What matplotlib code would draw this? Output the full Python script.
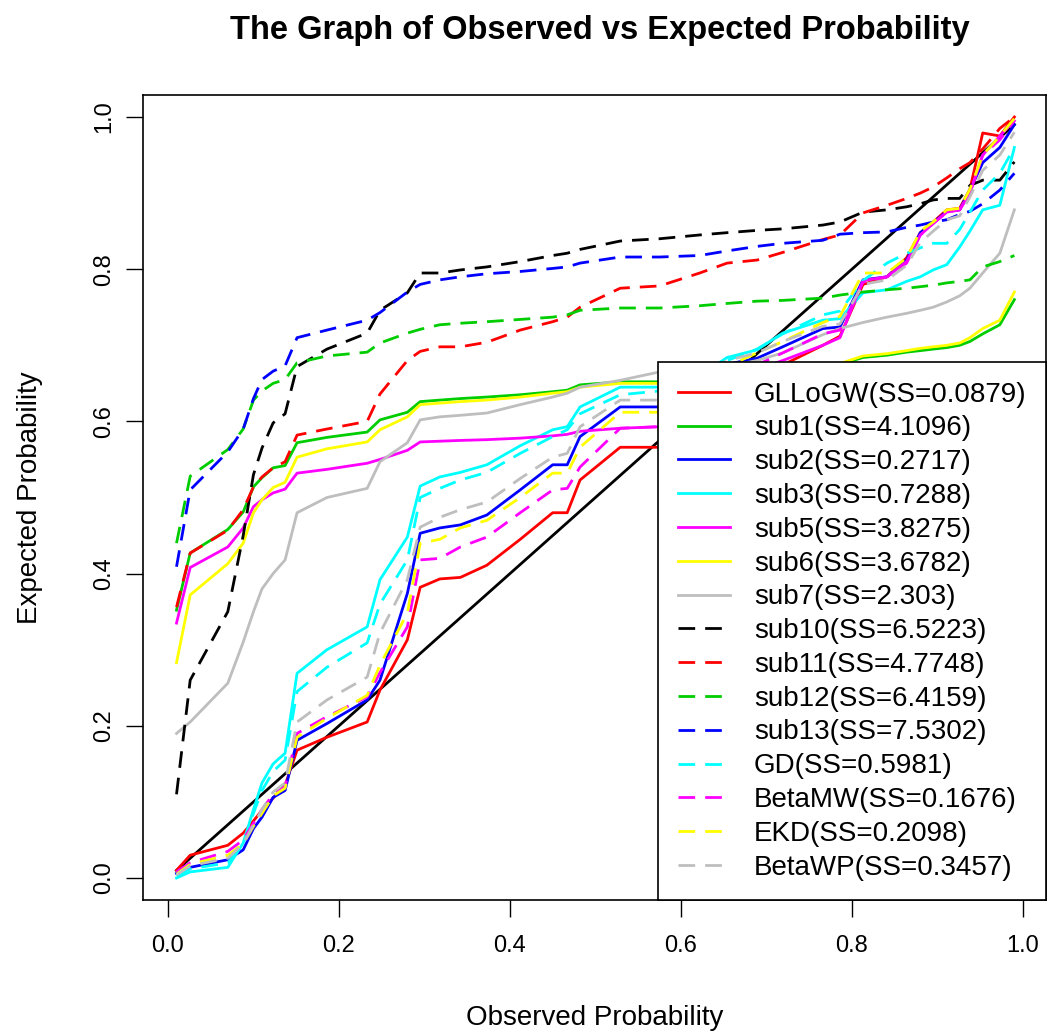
import numpy as np
import matplotlib
matplotlib.use("Agg")
import matplotlib.pyplot as plt

plt.rcParams['font.family'] = ['Liberation Sans', 'DejaVu Sans']

# observed probabilities (shared x for every model)
obs = [0.010, 0.026, 0.070, 0.088, 0.100, 0.110, 0.123, 0.137, 0.151, 0.186,
       0.233, 0.248, 0.280, 0.295, 0.318, 0.342, 0.373, 0.412, 0.450, 0.467,
       0.482, 0.529, 0.575, 0.622, 0.654, 0.689, 0.719, 0.766, 0.786, 0.813,
       0.841, 0.864, 0.880, 0.895, 0.911, 0.926, 0.938, 0.953, 0.973, 0.990]

# expected probabilities for each fitted model
gllogw = [0.010, 0.030, 0.043, 0.059, 0.075, 0.089, 0.105, 0.122, 0.168, 0.185,
          0.205, 0.247, 0.313, 0.382, 0.393, 0.395, 0.411, 0.445, 0.480, 0.480,
          0.523, 0.566, 0.566, 0.600, 0.630, 0.660, 0.674, 0.700, 0.712, 0.780,
          0.790, 0.815, 0.848, 0.862, 0.878, 0.880, 0.905, 0.979, 0.975, 1.000]
sub1 = [0.352, 0.427, 0.458, 0.481, 0.514, 0.526, 0.539, 0.542, 0.572, 0.579,
        0.586, 0.602, 0.612, 0.626, 0.628, 0.630, 0.632, 0.635, 0.639, 0.641,
        0.648, 0.652, 0.652, 0.655, 0.658, 0.662, 0.666, 0.672, 0.675, 0.684,
        0.687, 0.691, 0.693, 0.695, 0.697, 0.700, 0.705, 0.715, 0.727, 0.760]
sub2 = [0.006, 0.014, 0.024, 0.037, 0.065, 0.080, 0.106, 0.115, 0.181, 0.203,
        0.234, 0.260, 0.374, 0.453, 0.460, 0.464, 0.477, 0.510, 0.543, 0.543,
        0.580, 0.619, 0.619, 0.650, 0.675, 0.683, 0.698, 0.722, 0.724, 0.786,
        0.790, 0.812, 0.848, 0.861, 0.876, 0.878, 0.904, 0.940, 0.960, 0.990]
sub3 = [0.000, 0.008, 0.014, 0.046, 0.090, 0.125, 0.150, 0.164, 0.269, 0.300,
        0.330, 0.392, 0.448, 0.515, 0.527, 0.533, 0.543, 0.568, 0.589, 0.593,
        0.619, 0.645, 0.645, 0.660, 0.684, 0.694, 0.716, 0.733, 0.735, 0.769,
        0.773, 0.784, 0.790, 0.799, 0.806, 0.829, 0.850, 0.878, 0.884, 0.960]
sub5 = [0.335, 0.408, 0.435, 0.460, 0.488, 0.497, 0.506, 0.511, 0.532, 0.537,
        0.545, 0.550, 0.562, 0.573, 0.574, 0.575, 0.576, 0.578, 0.581, 0.583,
        0.587, 0.591, 0.593, 0.620, 0.645, 0.668, 0.680, 0.700, 0.710, 0.785,
        0.790, 0.810, 0.845, 0.860, 0.875, 0.878, 0.900, 0.950, 0.975, 0.995]
sub6 = [0.283, 0.372, 0.413, 0.440, 0.480, 0.497, 0.513, 0.520, 0.553, 0.564,
        0.573, 0.589, 0.606, 0.622, 0.624, 0.626, 0.628, 0.632, 0.637, 0.639,
        0.645, 0.650, 0.650, 0.654, 0.657, 0.661, 0.665, 0.672, 0.676, 0.686,
        0.689, 0.693, 0.696, 0.698, 0.700, 0.703, 0.710, 0.722, 0.733, 0.770]
sub7 = [0.190, 0.205, 0.256, 0.310, 0.350, 0.380, 0.400, 0.418, 0.480, 0.500,
        0.512, 0.547, 0.572, 0.602, 0.606, 0.608, 0.611, 0.622, 0.632, 0.637,
        0.645, 0.654, 0.665, 0.668, 0.672, 0.680, 0.690, 0.714, 0.722, 0.730,
        0.737, 0.742, 0.746, 0.750, 0.757, 0.765, 0.775, 0.795, 0.821, 0.878]
sub10 = [0.110, 0.260, 0.350, 0.450, 0.530, 0.565, 0.598, 0.610, 0.672, 0.695,
         0.716, 0.746, 0.769, 0.795, 0.795, 0.799, 0.803, 0.810, 0.818, 0.821,
         0.826, 0.837, 0.840, 0.845, 0.848, 0.851, 0.853, 0.858, 0.862, 0.875,
         0.878, 0.882, 0.886, 0.891, 0.893, 0.893, 0.910, 0.917, 0.917, 0.941]
sub11 = [0.356, 0.427, 0.457, 0.484, 0.514, 0.527, 0.539, 0.547, 0.582, 0.590,
         0.600, 0.636, 0.680, 0.692, 0.698, 0.698, 0.704, 0.720, 0.731, 0.737,
         0.750, 0.775, 0.778, 0.795, 0.808, 0.812, 0.822, 0.839, 0.845, 0.874,
         0.884, 0.893, 0.900, 0.908, 0.920, 0.932, 0.940, 0.958, 0.985, 1.000]
sub12 = [0.440, 0.528, 0.563, 0.590, 0.628, 0.640, 0.650, 0.655, 0.677, 0.686,
         0.691, 0.703, 0.716, 0.721, 0.727, 0.729, 0.731, 0.734, 0.737, 0.740,
         0.746, 0.749, 0.749, 0.752, 0.755, 0.758, 0.759, 0.762, 0.766, 0.770,
         0.773, 0.775, 0.777, 0.779, 0.782, 0.784, 0.786, 0.803, 0.810, 0.818]
sub13 = [0.409, 0.510, 0.560, 0.590, 0.630, 0.655, 0.666, 0.673, 0.710, 0.720,
         0.733, 0.743, 0.770, 0.780, 0.786, 0.790, 0.794, 0.797, 0.801, 0.803,
         0.808, 0.816, 0.816, 0.818, 0.824, 0.830, 0.834, 0.838, 0.846, 0.848,
         0.849, 0.855, 0.858, 0.862, 0.865, 0.872, 0.876, 0.886, 0.904, 0.926]
gd = [0.003, 0.012, 0.020, 0.045, 0.085, 0.115, 0.140, 0.155, 0.245, 0.277,
      0.309, 0.360, 0.418, 0.500, 0.512, 0.523, 0.533, 0.558, 0.580, 0.589,
      0.610, 0.635, 0.640, 0.660, 0.680, 0.695, 0.715, 0.740, 0.745, 0.785,
      0.808, 0.821, 0.828, 0.834, 0.834, 0.852, 0.875, 0.904, 0.926, 0.960]
betamw = [0.008, 0.020, 0.035, 0.050, 0.072, 0.090, 0.110, 0.120, 0.190, 0.212,
          0.238, 0.270, 0.330, 0.418, 0.420, 0.435, 0.448, 0.480, 0.510, 0.512,
          0.540, 0.591, 0.593, 0.630, 0.660, 0.674, 0.690, 0.715, 0.720, 0.783,
          0.790, 0.808, 0.845, 0.860, 0.875, 0.878, 0.900, 0.950, 0.970, 0.995]
ekd = [0.005, 0.018, 0.030, 0.045, 0.068, 0.085, 0.108, 0.118, 0.185, 0.210,
       0.240, 0.280, 0.348, 0.440, 0.445, 0.460, 0.470, 0.500, 0.532, 0.532,
       0.566, 0.612, 0.612, 0.645, 0.672, 0.690, 0.705, 0.730, 0.738, 0.795,
       0.795, 0.815, 0.850, 0.862, 0.878, 0.880, 0.905, 0.950, 0.975, 0.998]
betawp = [0.004, 0.016, 0.026, 0.045, 0.070, 0.090, 0.113, 0.125, 0.205, 0.234,
          0.264, 0.322, 0.392, 0.461, 0.474, 0.484, 0.494, 0.525, 0.553, 0.558,
          0.593, 0.628, 0.628, 0.660, 0.680, 0.690, 0.705, 0.725, 0.728, 0.780,
          0.786, 0.805, 0.835, 0.850, 0.865, 0.870, 0.895, 0.930, 0.950, 0.980]

labels = ['GLLoGW(SS=0.0879)', 'sub1(SS=4.1096)', 'sub2(SS=0.2717)',
          'sub3(SS=0.7288)', 'sub5(SS=3.8275)', 'sub6(SS=3.6782)',
          'sub7(SS=2.303)', 'sub10(SS=6.5223)', 'sub11(SS=4.7748)',
          'sub12(SS=6.4159)', 'sub13(SS=7.5302)', 'GD(SS=0.5981)',
          'BetaMW(SS=0.1676)', 'EKD(SS=0.2098)', 'BetaWP(SS=0.3457)']
series = [gllogw, sub1, sub2, sub3, sub5, sub6, sub7,
          sub10, sub11, sub12, sub13, gd, betamw, ekd, betawp]
colors = ['#FF0000', '#00CD00', '#0000FF', '#00FFFF', '#FF00FF', '#FFFF00', '#BEBEBE',
          '#000000', '#FF0000', '#00CD00', '#0000FF', '#00FFFF', '#FF00FF', '#FFFF00', '#BEBEBE']
dashed = [False] * 7 + [True] * 8


def main():
    fig = plt.figure(figsize=(10.48, 10.35), dpi=100)
    ax = fig.add_axes([143 / 1048, 1 - 900 / 1035, 903 / 1048, 805 / 1035])

    # reference line y = x
    ax.plot([obs[0], obs[-1]], [obs[0], obs[-1]], color='black', lw=2)

    for y, c, d, lab in zip(series, colors, dashed, labels):
        if d:
            ax.plot(obs, y, color=c, lw=2, dashes=(6, 3.6), label=lab)
        else:
            ax.plot(obs, y, color=c, lw=2, label=lab)

    ax.set_xlim(-0.0292, 1.027)
    ax.set_ylim(-0.0289, 1.0289)
    ax.set_xticks(np.arange(0, 1.01, 0.2))
    ax.set_yticks(np.arange(0, 1.01, 0.2))
    ax.set_xticklabels(['0.0', '0.2', '0.4', '0.6', '0.8', '1.0'])
    ax.set_yticklabels(['0.0', '0.2', '0.4', '0.6', '0.8', '1.0'], rotation=90, va='center')
    ax.tick_params(direction='out', length=12, width=1, labelsize=17)
    ax.tick_params(axis='x', pad=13)
    ax.tick_params(axis='y', pad=8)
    for s in ax.spines.values():
        s.set_linewidth(1.2)

    ax.set_xlabel('Observed Probability', fontsize=20, va='center')
    ax.xaxis.set_label_coords(0.5, (900 - 1018) / 805)
    ax.set_ylabel('Expected Probability', fontsize=20, va='center')
    ax.yaxis.set_label_coords((30 - 143) / 903, 0.5)
    fig.text(600 / 1048, 1 - 30 / 1035, 'The Graph of Observed vs Expected Probability',
             fontsize=23.5, fontweight='bold', ha='center', va='center')

    leg = ax.legend(loc='lower right', borderaxespad=0, fontsize=20, fancybox=False,
                    framealpha=1, edgecolor='black', handlelength=1.9,
                    handletextpad=0.85, labelspacing=0.28, borderpad=0.7)
    leg.get_frame().set_linewidth(1.2)

    fig.savefig('out.png', dpi=100)


if __name__ == "__main__":
    main()
